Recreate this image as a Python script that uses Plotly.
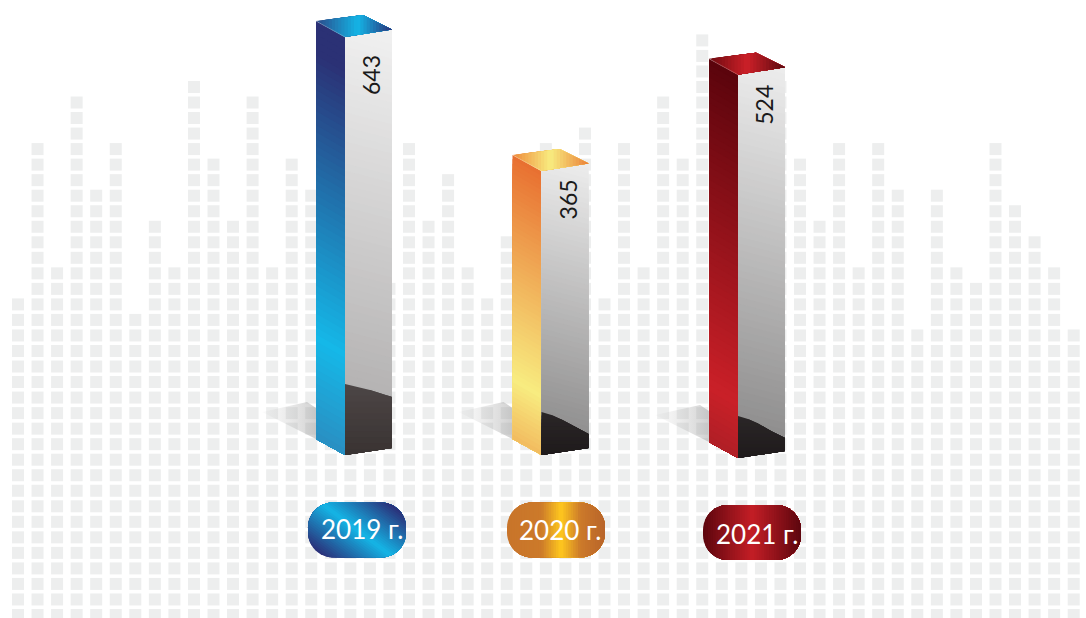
import math
import plotly.graph_objects as go

# ---- data ----
years = ["2019 г.", "2020 г.", "2021 г."]
values = [643, 365, 524]
# The source artwork is not drawn to scale: each column stands on an unlabelled plinth (value units)
plinth = [0, 72, 61]
floor = [0, 0, -4.6]
# Background equaliser: number of squares in each column, left to right
grid_counts = [21, 31, 23, 34, 28, 31, 20, 26, 23, 35, 30, 26, 34, 23, 30, 28,
               24, 24, 24, 22, 31, 26, 29, 23, 21, 25, 25, 31, 27, 32, 21, 31,
               23, 34, 30, 38, 30, 30, 30, 35, 30, 26, 31, 23, 31, 28, 19, 28,
               23, 22, 31, 27, 25, 23, 19]

# ---- scales ----
SX, SY = 196.5, 0.65     # pixels per bar index, pixels per value unit
X_RANGE = [-345 / SX, (1086 - 345) / SX]
Y_RANGE = [-163 / SY, 455 / SY]

# ---- style ----
LEFT_STOPS = [
    [(0, "#2b3175"), (0.08, "#2b3175"), (0.76, "#15b8e8"), (1, "#2a8fc2")],
    [(0, "#e86f30"), (0.79, "#f8ec80"), (1, "#f2bb5f")],
    [(0, "#5a040c"), (0.855, "#ca2028"), (1, "#b01f26")],
]
RIGHT_STOPS = [
    [(0, "#f1f1f1"), (1, "#a9a7a7")],
    [(0, "#ededed"), (1, "#858484")],
    [(0, "#ededed"), (1, "#878686")],
]
TOP_STOPS = [
    [(0, "#2b4a8a"), (0.55, "#14b5e6"), (1, "#2b3179")],
    [(0, "#ee8a3a"), (0.5, "#f8ec80"), (1, "#ea8038")],
    [(0, "#6e0a10"), (0.5, "#cc2028"), (1, "#5c0a10")],
]
CAP_STOPS = [
    [(0, "#4d4646"), (1, "#393332")],
    [(0, "#2b2627"), (1, "#1e1a1b")],
    [(0, "#2b2627"), (1, "#1e1a1b")],
]
CAP_EDGE = [
    [(0, -71), (25, -65), (47, -58)],
    [(0, -43), (10, -40), (21, -35), (34, -28), (47, -21)],
    [(0, -42), (10, -39), (19, -35), (33, -27), (47, -20)],
]
PILL_STOPS = [
    [(0, "#2b2f78"), (0.5, "#14b5e6"), (1, "#2b2f78")],
    [(0, "#c8742a"), (0.35, "#cc7a2a"), (0.55, "#ffc81e"), (0.75, "#cc7a2a"), (1, "#b8642a")],
    [(0, "#5c060e"), (0.5, "#c41e26"), (1, "#5c060e")],
]
PILL_DIR = [(0.6, -0.8), (1, 0), (1, 0)]
PILL_DX = [12, 14.5, 14]
PILL_CY = [75, 75, 74.5]     # px below the base line
TEXT_DX = [17, 18.5, 19]
TEXT_CY = [74, 75, 76]
LABEL_DROP = [38, 29, 30]
FONT = "Lato, sans-serif"


def hex2rgb(c):
    return tuple(int(c[k:k + 2], 16) for k in (1, 3, 5))


def mix(stops, f):
    for (a, ca), (b, cb) in zip(stops, stops[1:]):
        if f <= b:
            w = 0 if b == a else max(0, (f - a) / (b - a))
            r = [round(p + (q - p) * w) for p, q in zip(hex2rgb(ca), hex2rgb(cb))]
            return "rgb(%d,%d,%d)" % tuple(r)
    return stops[-1][1]


def clip(poly, d, t0):
    """Keep the part of a polygon (px-like coords) where d.p >= t0."""
    out = []
    for k in range(len(poly)):
        p, q = poly[k], poly[(k + 1) % len(poly)]
        tp = p[0] * d[0] + p[1] * d[1] - t0
        tq = q[0] * d[0] + q[1] * d[1] - t0
        if tp >= 0:
            out.append(p)
        if (tp >= 0) != (tq >= 0):
            w = tp / (tp - tq)
            out.append((p[0] + (q[0] - p[0]) * w, p[1] + (q[1] - p[1]) * w))
    return out


def data_xy(i, v, dx=0, dy=0):
    """Axis coordinates of a point dx,dy screen pixels away from bar i at value v."""
    return (i + dx / SX, v - dy / SY)


fig = go.Figure()


def gradient_face(points, d, stops, n):
    # points are in axis units; d is a direction in screen pixels
    poly = [(x * SX, -y * SY) for x, y in points]
    ts = [p[0] * d[0] + p[1] * d[1] for p in poly]
    lo, hi = min(ts), max(ts)
    for k in range(n):
        part = clip(poly, d, lo + (hi - lo) * k / n)
        if len(part) < 3:
            continue
        xs = [p[0] / SX for p in part]
        ys = [-p[1] / SY for p in part]
        fig.add_trace(go.Scatter(x=xs + xs[:1], y=ys + ys[:1], mode="none", fill="toself",
                                 fillcolor=mix(stops, (k + 0.5) / n), xaxis="x2", yaxis="y2",
                                 hoverinfo="skip", showlegend=False))


# background squares on the grid axes
gx, gy = [], []
for col, count in enumerate(grid_counts):
    for row in range(count):
        gx.append(col)
        gy.append(row)
fig.add_trace(go.Scatter(x=gx, y=gy, mode="markers", hoverinfo="skip", showlegend=False,
                         marker=dict(symbol="square", size=12, color="#edeeee", line=dict(width=0))))

for i, val in enumerate(values):
    top = val + plinth[i]
    base = floor[i]
    # shadow on the floor
    sh = [data_xy(i, base, -29 + a, -16 + b) for a, b in [(-54, -27), (-9, -37), (0, -31), (0, 0)]]
    fig.add_trace(go.Scatter(
        x=[p[0] for p in sh] + [sh[0][0]], y=[p[1] for p in sh] + [sh[0][1]],
        mode="none", fill="toself", xaxis="x2", yaxis="y2", hoverinfo="skip", showlegend=False,
        fillgradient=dict(type="horizontal",
                          colorscale=[[0, "rgba(190,190,190,0.05)"], [1, "rgba(150,150,150,0.45)"]])))
    lt = data_xy(i, top, -29, -16)
    ft = data_xy(i, top)
    rt = data_xy(i, top, 47, -7.5)
    bk = data_xy(i, top, 18, -22)
    lb = data_xy(i, base, -29, -16)
    fb = data_xy(i, base)
    rb = data_xy(i, base, 47, -7)
    gradient_face([lt, ft, fb, lb], (-0.5, 0.866), LEFT_STOPS[i], 60)
    gradient_face([ft, rt, rb, fb], (-0.25, 0.97), RIGHT_STOPS[i], 60)
    gradient_face([lt, bk, rt, ft], (1, 0), TOP_STOPS[i], 24)
    cap = [data_xy(i, base, a, b) for a, b in CAP_EDGE[i]] + [rb, fb]
    gradient_face(cap, (0, 1), CAP_STOPS[i], 12)
    # light seam between left face and top
    fig.add_trace(go.Scatter(x=[lt[0], ft[0]], y=[lt[1], ft[1]], mode="lines", xaxis="x2", yaxis="y2",
                             line=dict(color="rgba(255,255,255,0.35)", width=0.7),
                             hoverinfo="skip", showlegend=False))
    # year pill: rounded rectangle built in pixel offsets
    w, h, r = 98, 55, 25
    corners = [(w / 2 - r, -h / 2 + r, -90), (w / 2 - r, h / 2 - r, 0),
               (-w / 2 + r, h / 2 - r, 90), (-w / 2 + r, -h / 2 + r, 180)]
    outline = []
    for cx, cy, a0 in corners:
        for s in range(13):
            a = math.radians(a0 + 90 * s / 12)
            outline.append(data_xy(i, base, PILL_DX[i] + cx + r * math.cos(a),
                                   PILL_CY[i] + cy + r * math.sin(a)))
    gradient_face(outline, PILL_DIR[i], PILL_STOPS[i], 40)
    # texts
    tx, ty = data_xy(i, base, TEXT_DX[i], TEXT_CY[i])
    fig.add_annotation(x=tx, y=ty, xref="x2", yref="y2", text=years[i], showarrow=False,
                       font=dict(family=FONT, size=26, color="#ffffff"))
    lx, ly = data_xy(i, top, 26, LABEL_DROP[i])
    fig.add_annotation(x=lx, y=ly, xref="x2", yref="y2", text=str(val), showarrow=False, textangle=-90,
                       font=dict(family=FONT, size=23, color="#1a1a1a"))

hidden = dict(visible=False, fixedrange=True)
fig.update_layout(
    width=1086, height=618, autosize=False,
    margin=dict(l=0, r=0, t=0, b=0), paper_bgcolor="#ffffff", plot_bgcolor="#ffffff",
    showlegend=False,
    xaxis=dict(range=[-18 / 19.55, (1086 - 18) / 19.55], **hidden),
    yaxis=dict(range=[-3 / 15.53, 615 / 15.53], **hidden),
    xaxis2=dict(range=X_RANGE, overlaying="x", **hidden),
    yaxis2=dict(range=Y_RANGE, overlaying="y", **hidden),
)
fig.write_html("out.html", config={"displayModeBar": False},
               post_script="document.body.style.margin='0';document.body.style.overflow='hidden';")
